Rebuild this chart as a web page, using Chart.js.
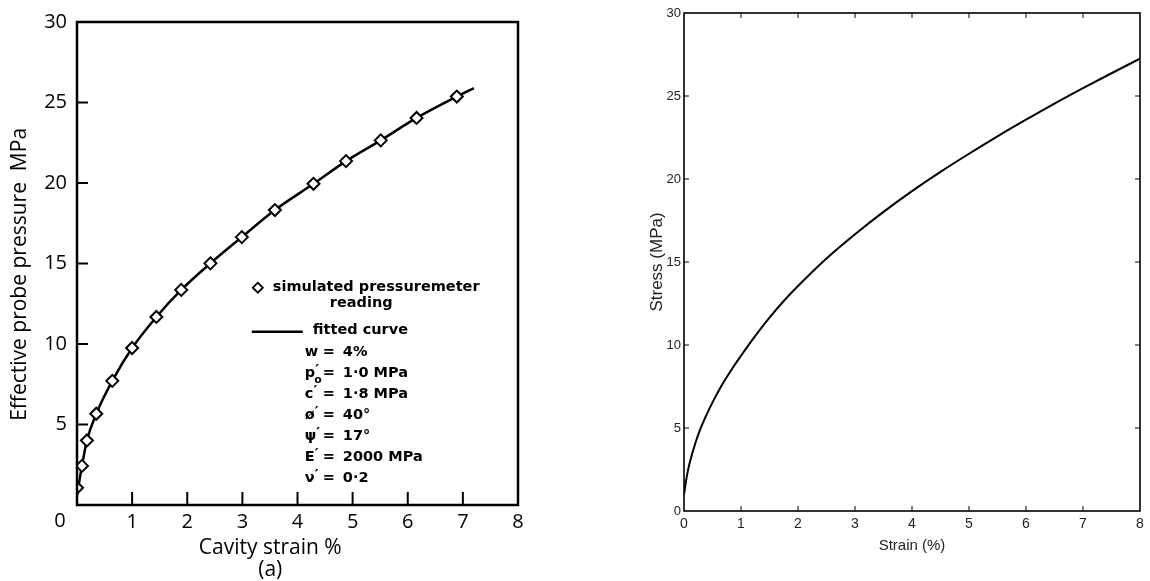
<!DOCTYPE html>
<html>
<head>
<meta charset="utf-8">
<script src="https://cdn.jsdelivr.net/npm/chart.js@4.4.1/dist/chart.umd.min.js"></script>
<style>
    html, body { margin: 0; padding: 0; background: #fff; }
    body { width: 1150px; height: 581px; position: relative; overflow: hidden; }
    .panel { position: absolute; top: 0; height: 581px; }
    #left-wrap { left: 0; width: 545px; }
    #right-wrap { left: 560px; width: 590px; }
</style>
</head>
<body>
<div class="panel" id="left-wrap"><canvas id="probe"></canvas></div>
<div class="panel" id="right-wrap"><canvas id="stress"></canvas></div>
<script>
// (a) simulated pressuremeter readings
const readStrain = [0, 0.09, 0.18, 0.35, 0.64, 1.0, 1.44, 1.89, 2.42, 2.99, 3.59, 4.29, 4.88, 5.51, 6.16, 6.89];
const readPressure = [1.07, 2.43, 4.01, 5.67, 7.71, 9.75, 11.68, 13.36, 15.01, 16.64, 18.32, 19.95, 21.36, 22.65, 24.04, 25.37];

// fitted curve through the readings (runs a little past the last one)
const fitStrain = [0, 0.09, 0.18, 0.35, 0.64, 1.0, 1.44, 1.89, 2.42, 2.99, 3.59, 4.29, 4.88, 5.51, 6.16, 6.89, 7.2];
const fitPressure = [0.6, 2.43, 4.01, 5.67, 7.71, 9.75, 11.68, 13.36, 15.01, 16.64, 18.32, 19.95, 21.36, 22.65, 24.04, 25.37, 25.9];

// right panel: stress-strain curve
const strainPct = [0, 0.05, 0.1, 0.2, 0.3, 0.45, 0.65, 0.85, 1.0, 1.25, 1.5, 1.75, 2.0, 2.5, 3.0, 3.5, 4.0, 4.5, 5.0, 5.5, 6.0, 6.5, 7.0, 7.5, 8.0];
const stressMPa = [1.0, 2.1, 2.9, 4.1, 5.05, 6.2, 7.5, 8.6, 9.35, 10.55, 11.65, 12.65, 13.55, 15.21, 16.67, 18.02, 19.27, 20.43, 21.52, 22.57, 23.57, 24.54, 25.47, 26.37, 27.25];

// axis ticks (same for both panels)
const strainTicks = [0, 1, 2, 3, 4, 5, 6, 7, 8];
const stressTicks = [0, 5, 10, 15, 20, 25, 30];

// key text of panel (a)
const keyMarker = 'simulated pressuremeter';
const keyMarker2 = 'reading';
const keyLine = 'fitted curve';
const paramSymbols = ['w', 'p', 'c', 'ø', 'ψ', 'E', 'ν'];
const paramPrimes = [false, true, true, true, true, true, true];
const paramSubs = ['', 'o', '', '', '', '', ''];
const paramValues = ['4%', '1·0 MPa', '1·8 MPa', '40°', '17°', '2000 MPa', '0·2'];

Chart.defaults.color = '#000';
Chart.defaults.animation = false;

const scanFont = '"Open Sans", "DejaVu Sans", sans-serif';
const keyFont = '"DejaVu Sans", sans-serif';
const plainFont = '"Liberation Sans", Arial, sans-serif';

// frame around the plot area and inward tick marks
const frameTicks = {
    id: 'frameTicks',
    afterDraw(chart, args, opts) {
        const { ctx, chartArea: a, scales: { x, y } } = chart;
        ctx.save();
        ctx.strokeStyle = '#000';
        ctx.lineWidth = opts.tickWidth;
        ctx.beginPath();
        x.ticks.forEach(t => {
            if (t.value <= x.min || t.value >= x.max) return;
            const px = x.getPixelForValue(t.value);
            if (opts.bottom) { ctx.moveTo(px, a.bottom); ctx.lineTo(px, a.bottom - opts.bottom); }
            if (opts.top) { ctx.moveTo(px, a.top); ctx.lineTo(px, a.top + opts.top); }
        });
        y.ticks.forEach(t => {
            if (t.value <= y.min || t.value >= y.max) return;
            const py = y.getPixelForValue(t.value);
            if (opts.left) { ctx.moveTo(a.left, py); ctx.lineTo(a.left + opts.left, py); }
            if (opts.right) { ctx.moveTo(a.right, py); ctx.lineTo(a.right - opts.right, py); }
        });
        ctx.stroke();
        ctx.lineWidth = opts.frame;
        ctx.strokeRect(a.left, a.top, a.right - a.left, a.bottom - a.top);
        ctx.restore();
    }
};

// key + parameter list + shared corner "0" of panel (a)
const probeKey = {
    id: 'probeKey',
    afterDraw(chart, args, opts) {
        const { ctx, chartArea: a, scales: { x, y } } = chart;
        const ox = x.getPixelForValue(opts.at[0]);
        const oy = y.getPixelForValue(opts.at[1]);
        const big = 'bold 14.5px ' + keyFont;
        ctx.save();
        ctx.fillStyle = '#000';
        ctx.strokeStyle = '#000';
        ctx.textBaseline = 'middle';

        // corner zero
        ctx.font = '20px ' + scanFont;
        ctx.textAlign = 'center';
        ctx.fillText('0', a.left - 17, a.bottom + 16);

        // diamond entry
        ctx.lineWidth = 1.8;
        ctx.beginPath();
        ctx.moveTo(ox, oy - 5);
        ctx.lineTo(ox + 5, oy);
        ctx.lineTo(ox, oy + 5);
        ctx.lineTo(ox - 5, oy);
        ctx.closePath();
        ctx.stroke();
        ctx.font = big;
        ctx.textAlign = 'left';
        ctx.fillText(keyMarker, ox + 15, oy);
        ctx.fillText(keyMarker2, ox + 72, oy + 16);

        // line entry
        ctx.lineWidth = 2.5;
        ctx.beginPath();
        ctx.moveTo(ox - 6, oy + 44);
        ctx.lineTo(ox + 45, oy + 44);
        ctx.stroke();
        ctx.fillText(keyLine, ox + 55, oy + 43);

        // parameters
        paramSymbols.forEach((s, i) => {
            const py = oy + 65 + i * 21;
            const sx = ox + 47;
            ctx.font = big;
            ctx.fillText(s, sx, py);
            const w = ctx.measureText(s).width;
            if (paramPrimes[i]) ctx.fillText('′', sx + w, py - 3);
            ctx.font = 'bold 11px ' + keyFont;
            if (paramSubs[i]) ctx.fillText(paramSubs[i], sx + w - 1, py + 6);
            ctx.font = big;
            ctx.fillText('=', sx + 18, py);
            ctx.fillText(paramValues[i], sx + 38, py);
        });
        ctx.restore();
    }
};

const fixedTicks = list => scale => { scale.ticks = list.map(v => ({ value: v })); };

new Chart(document.getElementById('probe'), {
    type: 'scatter',
    data: {
        datasets: [{
            label: 'simulated pressuremeter reading',
            data: readStrain.map((s, i) => ({ x: s, y: readPressure[i] })),
            pointStyle: 'rectRot',
            pointRadius: 6,
            pointBorderWidth: 2,
            pointBackgroundColor: '#fff',
            pointBorderColor: '#000',
            order: 0
        }, {
            label: 'fitted curve',
            data: fitStrain.map((s, i) => ({ x: s, y: fitPressure[i] })),
            showLine: true,
            pointRadius: 0,
            borderColor: '#000',
            borderWidth: 2.5,
            cubicInterpolationMode: 'monotone',
            order: 1
        }]
    },
    options: {
        responsive: true,
        maintainAspectRatio: false,
        layout: { padding: { top: 14, right: 27, bottom: 0, left: 0 } },
        plugins: {
            legend: { display: false },
            tooltip: { enabled: false },
            frameTicks: { frame: 2.5, tickWidth: 2, bottom: 13, left: 11 },
            probeKey: { at: [3.28, 13.5] }
        },
        scales: {
            x: {
                type: 'linear', min: 0, max: 8,
                afterBuildTicks: fixedTicks(strainTicks),
                afterFit: s => { s.height = 76; },
                grid: { display: false, drawTicks: false },
                border: { display: false },
                ticks: {
                    padding: 5,
                    font: { family: scanFont, size: 20 },
                    callback: v => v === 0 ? '' : v
                },
                title: {
                    display: true,
                    // trailing spaces pull the centred title left, as in the scan
                    text: ['Cavity strain %          ', '(a)          '],
                    font: { family: scanFont, size: 21, lineHeight: 1.05 },
                    padding: { top: 0, bottom: 0 }
                }
            },
            y: {
                type: 'linear', min: 0, max: 30,
                afterBuildTicks: fixedTicks(stressTicks),
                afterFit: s => { s.width = 77; },
                grid: { display: false, drawTicks: false },
                border: { display: false },
                ticks: {
                    padding: 10,
                    font: { family: scanFont, size: 20 },
                    callback: v => v === 0 ? '' : v
                },
                title: {
                    display: true,
                    text: 'Effective probe pressure  MPa    ',
                    font: { family: scanFont, size: 21, lineHeight: 1.2 },
                    padding: { top: 7, bottom: 0 }
                }
            }
        }
    },
    plugins: [frameTicks, probeKey]
});

new Chart(document.getElementById('stress'), {
    type: 'scatter',
    data: {
        datasets: [{
            label: 'Stress',
            data: strainPct.map((s, i) => ({ x: s, y: stressMPa[i] })),
            showLine: true,
            pointRadius: 0,
            borderColor: '#000',
            borderWidth: 2,
            cubicInterpolationMode: 'monotone'
        }]
    },
    options: {
        responsive: true,
        maintainAspectRatio: false,
        layout: { padding: { top: 13, right: 10, bottom: 0, left: 0 } },
        plugins: {
            legend: { display: false },
            tooltip: { enabled: false },
            frameTicks: { frame: 1.6, tickWidth: 1, bottom: 5, top: 5, left: 5, right: 5 }
        },
        scales: {
            x: {
                type: 'linear', min: 0, max: 8,
                afterBuildTicks: fixedTicks(strainTicks),
                afterFit: s => { s.height = 70; },
                grid: { display: false, drawTicks: false },
                border: { display: false },
                ticks: { padding: 5, color: '#222', font: { family: plainFont, size: 14 } },
                title: {
                    display: true,
                    text: 'Strain (%)',
                    color: '#222',
                    font: { family: plainFont, size: 15, lineHeight: 1.2 },
                    padding: { top: 0, bottom: 26 }
                }
            },
            y: {
                type: 'linear', min: 0, max: 30,
                afterBuildTicks: fixedTicks(stressTicks),
                afterFit: s => { s.width = 124; },
                grid: { display: false, drawTicks: false },
                border: { display: false },
                ticks: { padding: 3, color: '#222', font: { family: plainFont, size: 13 } },
                title: {
                    display: true,
                    text: 'Stress (MPa)',
                    color: '#222',
                    font: { family: plainFont, size: 17, lineHeight: 1.2 },
                    padding: { top: 87, bottom: 0 }
                }
            }
        }
    },
    plugins: [frameTicks]
});
</script>
</body>
</html>
